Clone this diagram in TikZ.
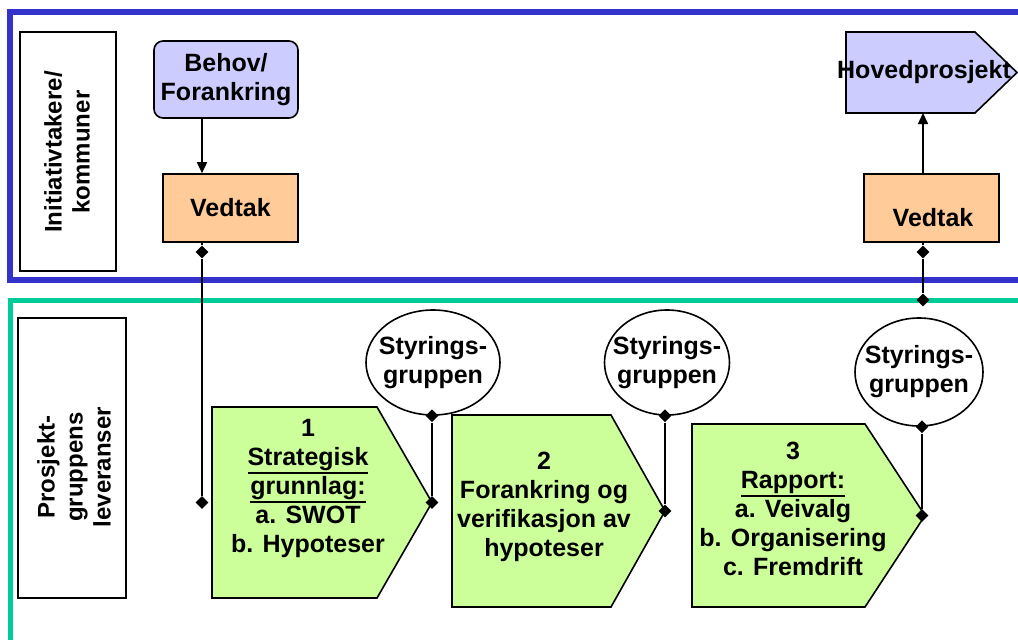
\documentclass[tikz,border=0pt]{standalone}
\usepackage{fontspec}
\setmainfont{Liberation Sans}
\usetikzlibrary{arrows.meta,shapes.geometric}
\definecolor{fblue}{HTML}{3333CC}
\definecolor{fgreen}{HTML}{00CC99}
\definecolor{lav}{HTML}{CCCCFF}
\definecolor{peach}{HTML}{FFCC99}
\definecolor{lgreen}{HTML}{CCFF99}
\newcommand\myul[1]{\vtop{\hbox{#1}\kern1pt\hrule height 2pt}}
\begin{document}
\begin{tikzpicture}[x=1pt,y=-1pt,
  txt/.style={font=\bfseries\fontsize{25}{29}\selectfont,align=center,inner sep=0pt},
  lbl/.style={txt,rotate=90,font=\bfseries\fontsize{24}{28}\selectfont},
  ln/.style={line width=1.6pt},
  box/.style={draw,ln,inner sep=0pt},
  dia/.style={diamond,fill=black,inner sep=0pt,minimum size=13pt},
  arr/.style={ln,-{Triangle[length=11pt,width=10pt]}},
  shp/.style={draw,ln,fill=lgreen},
  ell/.style={draw,ln,ellipse,fill=white,inner sep=0pt}]

\useasboundingbox (0,0) rectangle (1018,640);
\begin{scope}
\clip (0,0) rectangle (1018,640);
\draw[fblue,line width=6pt] (10,12) rectangle (1040,280);
\draw[fgreen,line width=5pt] (10,300) rectangle (1040,680);
\end{scope}

% lane labels
\node[box,minimum width=96pt,minimum height=239pt] (lab1) at (68,151.5) {};
\node[lbl] (lab1t) at (67,152) {Initiativtakere/\\kommuner};
\node[box,minimum width=108pt,minimum height=280pt] (lab2) at (72,458) {};
\node[lbl] (lab2t) at (74,467) {Prosjekt-\\gruppens\\leveranser};

% top lane
\node[box,txt,fill=lav,rounded corners=9pt,minimum width=144pt,minimum height=77pt] (behov) at (226,79.5) {Behov/\\Forankring};
\node[box,txt,fill=peach,minimum width=135pt,minimum height=68pt] (v1) at (230.5,208) {Vedtak};
\node[box,fill=peach,minimum width=135pt,minimum height=68pt] (v2) at (931.5,208) {};
\node[txt] (v2t) at (933,218) {Vedtak};
\draw[ln,fill=lav] (846,32) -- (975,32) -- (1017,72.5) -- (975,113) -- (846,113) -- cycle;
\coordinate (hovb) at (923,113);
\node[txt] (hoved) at (924,72) {Hovedprosjekt};

% deliverables
\draw[shp] (212,407) -- (377,407) -- (432,502.5) -- (377,598) -- (212,598) -- cycle;
\coordinate (t1) at (432,502.5);
\node[txt,anchor=north] (b1) at (308,419) {1\\\myul{Strategisk}\\\myul{grunnlag:}\\a. SWOT\\b. Hypoteser};

\draw[shp] (452,415) -- (611,415) -- (665,511) -- (611,607) -- (452,607) -- cycle;
\coordinate (t2) at (665,511);
\node[txt,anchor=north] (b2) at (544,452) {2\\Forankring og\\verifikasjon av\\hypoteser};

\draw[shp] (692,424) -- (865,424) -- (925,515.5) -- (865,607) -- (692,607) -- cycle;
\coordinate (t3) at (922,515.5);
\node[txt,anchor=north] (b3) at (793,442) {3\\\myul{Rapport:}\\a. Veivalg\\b. Organisering\\c. Fremdrift};

% steering group ellipses
\node[ell,minimum width=134pt,minimum height=105pt] (e1) at (433,362.5) {};
\node[txt] (e1t) at (e1.center) {Styrings-\\gruppen};
\node[ell,minimum width=125pt,minimum height=105pt] (e2) at (667,362.5) {};
\node[txt] (e2t) at (e2.center) {Styrings-\\gruppen};
\node[ell,minimum width=128pt,minimum height=108pt] (e3) at (919,372) {};
\node[txt] (e3t) at (e3.center) {Styrings-\\gruppen};

% diamonds
\node[dia] (d1) at (202,252) {};
\node[dia] (d2) at (202,502.5) {};
\node[dia] (d3) at (923,252) {};
\node[dia] (d4) at (923,300) {};
\node[dia] (de1) at (e1.south -| t1) {};
\node[dia] (dt1) at (t1) {};
\node[dia] (de2) at (e2.south -| t2) {};
\node[dia] (dt2) at (t2) {};
\node[dia] (de3) at (e3.south -| t3) {};
\node[dia] (dt3) at (t3) {};

% connectors
\draw[arr] (behov.south -| d1) -- (v1.north -| d1);
\draw[ln] (v1.south -| d1) -- (d1);
\draw[ln] (d1) -- (d2);
\draw[arr] (v2.north -| hovb) -- (hovb);
\draw[ln] (v2.south -| d3) -- (d3);
\draw[ln] (d3) -- (d4);
\draw[ln] (de1) -- (dt1);
\draw[ln] (de2) -- (dt2);
\draw[ln] (de3) -- (dt3);
\end{tikzpicture}
\end{document}
